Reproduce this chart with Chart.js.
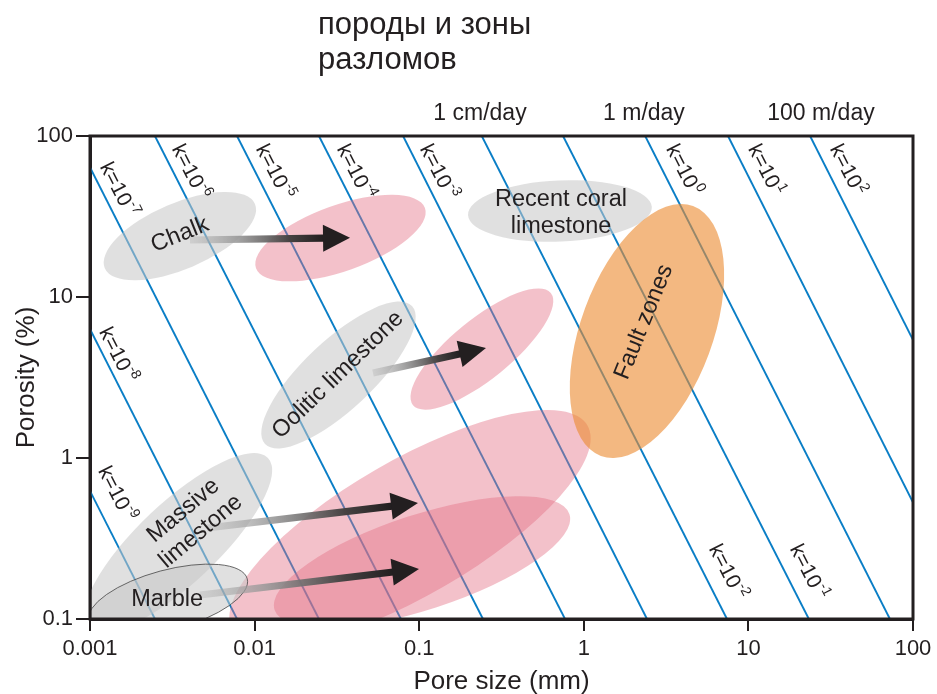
<!DOCTYPE html>
<html>
<head>
<meta charset="utf-8">
<script src="https://cdn.jsdelivr.net/npm/chart.js@4/dist/chart.umd.min.js"></script>
<style>
  html, body { margin: 0; padding: 0; background: #fff; }
  #wrap { width: 937px; height: 694px; }
</style>
</head>
<body>
<div id="wrap"><canvas id="c" width="937" height="694"></canvas></div>
<script>
// ---- Axes -------------------------------------------------------------
const poreTicks = [0.001, 0.01, 0.1, 1, 10, 100];            // pore size, mm
const poreTickLabels = ['0.001', '0.01', '0.1', '1', '10', '100'];
const porosityTicks = [0.1, 1, 10, 100];                      // porosity, %
const porosityTickLabels = ['0.1', '1', '10', '100'];

// ---- Permeability isolines k = 10^n --------------------------------------
const kExponents = [-9, -8, -7, -6, -5, -4, -3, -2, -1, 0, 1, 2];
// pore size (mm) where each isoline reaches 100 % and 0.1 % porosity
const kPoreAtTop    = [0.0000805, 0.000254, 0.000800, 0.00248, 0.00782, 0.0246, 0.0798, 0.240, 0.748, 2.36, 7.52, 23.7];
const kPoreAtBottom = [0.00248, 0.00782, 0.0246, 0.0774, 0.244, 0.769, 2.42, 7.41, 23.3, 72.4, 228, 719];
// where each isoline is labelled (pore size mm, porosity %)
const kLabelPore     = [0.00144, 0.00146, 0.00148, 0.00405, 0.01312, 0.0407, 0.130, 7.41, 23.0, 4.01, 12.62, 39.7];
const kLabelPorosity = [0.598, 4.36, 46.2, 59.8, 59.8, 59.8, 59.8, 0.196, 0.196, 61.5, 61.5, 61.5];

// ---- Flow-velocity markers along the top --------------------------------
const velocityLabels = ['1 cm/day', '1 m/day', '100 m/day'];
const velocityPore   = [0.234, 2.32, 27.6];

// ---- Rock fields: long axis from (pore, porosity) to (pore, porosity),
//      half-width across it in decades ---------------------------------------
const fieldNames       = ['Massive altered', 'Marble altered', 'Chalk', 'Chalk altered', 'Oolitic limestone', 'Oolitic altered', 'Massive limestone', 'Marble', 'Recent coral limestone', 'Fault zones'];
const fieldKind        = ['altered', 'altered', 'rock', 'altered', 'rock', 'altered', 'rock', 'marble', 'rock', 'fault'];
const fieldPoreFrom    = [0.00734, 0.01323, 0.00123, 0.0102, 0.01157, 0.0917, 0.000973, 0.000983, 0.198, 4.61];
const fieldPorosityFrom= [0.0848, 0.1139, 15.1, 15.1, 1.222, 2.13, 0.0879, 0.0969, 32.3, 36.7];
const fieldPoreTo      = [1.053, 0.818, 0.01005, 0.1084, 0.0904, 0.630, 0.01206, 0.00902, 2.59, 1.27];
const fieldPorosityTo  = [1.592, 0.448, 37.8, 35.7, 8.79, 10.59, 1.0, 0.1778, 36.2, 1.03];
const fieldHalfWidth   = [0.42, 0.295, 0.205, 0.205, 0.215, 0.185, 0.25, 0.186, 0.19, 0.41];

// ---- Alteration trends (arrows) -------------------------------------------
const trendNames        = ['Chalk', 'Oolitic limestone', 'Massive limestone', 'Marble'];
const trendPoreFrom     = [0.00405, 0.0524, 0.00514, 0.00466];
const trendPorosityFrom = [22.6, 3.37, 0.3674, 0.141];
const trendPoreTo       = [0.038, 0.2545, 0.0983, 0.0997];
const trendPorosityTo   = [23.3, 4.82, 0.5254, 0.2045];

const FONT = "'Liberation Sans', Arial, Helvetica, sans-serif";
const INK = '#231f20';
const LINE_BLUE = '#0a7ec6';

const fills = {
  rock: 'rgba(198,198,198,0.55)',
  marble: 'rgba(198,198,198,0.55)',
  altered: 'rgba(228,112,132,0.43)',
  fault: 'rgba(236,140,52,0.62)'
};

// text placed on the rock fields: [text lines, pore, porosity, angle deg]
const fieldLabels = [
  [['Chalk'], 0.00352, 24.3, -22],
  [['Recent coral', 'limestone'], 0.727, 33.3, 0],
  [['Fault zones'], 2.32, 7.0, -68],
  [['Oolitic limestone'], 0.0321, 3.28, -44],
  [['Massive', 'limestone'], 0.00417, 0.406, -40],
  [['Marble'], 0.00294, 0.133, 0]
];

const isolines = kExponents.map((n, i) => ({
  label: 'k=10^' + n,
  data: [{ x: kPoreAtTop[i], y: 100 }, { x: kPoreAtBottom[i], y: 0.1 }],
  showLine: true,
  borderColor: LINE_BLUE,
  borderWidth: 1.9,
  pointRadius: 0,
  fill: false
}));

function drawArrow(ctx, x1, y1, x2, y2) {
  const ang = Math.atan2(y2 - y1, x2 - x1);
  const len = Math.hypot(x2 - x1, y2 - y1);
  const head = 27, hw = 13.5, sw = 3.6;
  ctx.save();
  ctx.translate(x1, y1);
  ctx.rotate(ang);
  const g = ctx.createLinearGradient(0, 0, len - head, 0);
  g.addColorStop(0, 'rgba(175,175,175,0.35)');
  g.addColorStop(0.35, 'rgba(150,150,150,0.85)');
  g.addColorStop(0.75, 'rgba(70,66,66,1)');
  g.addColorStop(1, INK);
  ctx.fillStyle = g;
  ctx.fillRect(0, -sw, len - head + 1, sw * 2);
  ctx.fillStyle = INK;
  ctx.beginPath();
  ctx.moveTo(len, 0);
  ctx.lineTo(len - head, -hw);
  ctx.lineTo(len - head, hw);
  ctx.closePath();
  ctx.fill();
  ctx.restore();
}

const overlay = {
  id: 'overlay',
  afterDatasetsDraw(chart) {
    const { ctx, chartArea: a, scales: { x, y } } = chart;
    const px = v => x.getPixelForValue(v);
    const py = v => y.getPixelForValue(v);
    const decade = y.getPixelForValue(1) - y.getPixelForValue(10);

    ctx.save();
    ctx.beginPath();
    ctx.rect(a.left, a.top, a.right - a.left, a.bottom - a.top);
    ctx.clip();

    // rock fields
    fieldNames.forEach((name, i) => {
      const x1 = px(fieldPoreFrom[i]), y1 = py(fieldPorosityFrom[i]);
      const x2 = px(fieldPoreTo[i]), y2 = py(fieldPorosityTo[i]);
      const cx = (x1 + x2) / 2, cy = (y1 + y2) / 2;
      const rx = Math.hypot(x2 - x1, y2 - y1) / 2;
      const ry = fieldHalfWidth[i] * decade;
      ctx.beginPath();
      ctx.ellipse(cx, cy, rx, ry, Math.atan2(y2 - y1, x2 - x1), 0, Math.PI * 2);
      ctx.fillStyle = fills[fieldKind[i]];
      ctx.fill();
      if (fieldKind[i] === 'marble') {
        ctx.lineWidth = 1;
        ctx.strokeStyle = 'rgba(70,70,70,0.8)';
        ctx.stroke();
      }
    });

    // alteration trends
    trendNames.forEach((n, i) => {
      drawArrow(ctx, px(trendPoreFrom[i]), py(trendPorosityFrom[i]), px(trendPoreTo[i]), py(trendPorosityTo[i]));
    });
    ctx.restore();

    // field names
    ctx.save();
    ctx.fillStyle = INK;
    ctx.font = '23.5px ' + FONT;
    ctx.textAlign = 'center';
    ctx.textBaseline = 'middle';
    fieldLabels.forEach(([lines, pore, poro, deg]) => {
      ctx.save();
      ctx.translate(px(pore), py(poro));
      ctx.rotate(deg * Math.PI / 180);
      const lh = 27;
      lines.forEach((t, j) => ctx.fillText(t, 0, (j - (lines.length - 1) / 2) * lh));
      ctx.restore();
    });
    ctx.restore();

    // isoline labels k=10^n
    const slope = Math.atan2(py(0.1) - py(100), px(kPoreAtBottom[0]) - px(kPoreAtTop[0]));
    ctx.save();
    ctx.fillStyle = INK;
    ctx.textBaseline = 'middle';
    ctx.textAlign = 'left';
    kExponents.forEach((n, i) => {
      ctx.save();
      ctx.translate(px(kLabelPore[i]), py(kLabelPorosity[i]));
      ctx.rotate(slope);
      ctx.font = '21px ' + FONT;
      const base = 'k=10';
      const wb = ctx.measureText(base).width;
      ctx.font = '14px ' + FONT;
      const sup = String(n);
      const ws = ctx.measureText(sup).width;
      const start = -(wb + ws) / 2;
      ctx.font = '21px ' + FONT;
      ctx.fillText(base, start, 0);
      ctx.font = '14px ' + FONT;
      ctx.fillText(sup, start + wb + 0.5, -7.5);
      ctx.restore();
    });
    ctx.restore();
  },
  afterDraw(chart) {
    const { ctx, chartArea: a, scales: { x } } = chart;
    ctx.save();
    // frame
    ctx.strokeStyle = INK;
    ctx.lineWidth = 3;
    ctx.strokeRect(a.left, a.top, a.right - a.left, a.bottom - a.top);
    // velocity markers
    ctx.fillStyle = INK;
    ctx.font = '23px ' + FONT;
    ctx.textAlign = 'center';
    ctx.textBaseline = 'alphabetic';
    velocityLabels.forEach((t, i) => ctx.fillText(t, x.getPixelForValue(velocityPore[i]), 120));
    // heading
    ctx.font = '31px ' + FONT;
    ctx.textAlign = 'left';
    ctx.fillText('породы и зоны', 318, 34);
    ctx.fillText('разломов', 318, 69);
    ctx.restore();
  }
};

new Chart(document.getElementById('c'), {
  type: 'scatter',
  data: { datasets: isolines },
  options: {
    responsive: false,
    animation: false,
    events: [],
    layout: { padding: { left: 0, right: 24, top: 136, bottom: 0 } },
    plugins: { legend: { display: false }, tooltip: { enabled: false } },
    scales: {
      x: {
        type: 'logarithmic',
        min: 0.001, max: 100,
        afterBuildTicks: s => { s.ticks = poreTicks.map(v => ({ value: v })); },
        afterFit: s => { s.height = 75; },
        ticks: {
          callback: (v, i) => poreTickLabels[i],
          font: { family: FONT, size: 22 },
          color: INK, padding: 5, maxRotation: 0, autoSkip: false
        },
        grid: { display: true, drawOnChartArea: false, drawTicks: true, tickLength: 12, color: INK, lineWidth: 2 },
        border: { display: true, color: INK, width: 3 },
        title: { display: true, text: 'Pore size (mm)', font: { family: FONT, size: 26 }, color: INK, padding: { top: 0, bottom: -3 } }
      },
      y: {
        type: 'logarithmic',
        min: 0.1, max: 100,
        afterBuildTicks: s => { s.ticks = porosityTicks.map(v => ({ value: v })); },
        afterFit: s => { s.width = 90; },
        ticks: {
          callback: (v, i) => porosityTickLabels[i],
          font: { family: FONT, size: 22 },
          color: INK, padding: 3, autoSkip: false
        },
        grid: { display: true, drawOnChartArea: false, drawTicks: true, tickLength: 14, color: INK, lineWidth: 2 },
        border: { display: true, color: INK, width: 3 },
        title: { display: true, text: 'Porosity (%)', font: { family: FONT, size: 26 }, color: INK, padding: { top: 11, bottom: 0 } }
      }
    }
  },
  plugins: [overlay]
});
</script>
</body>
</html>
